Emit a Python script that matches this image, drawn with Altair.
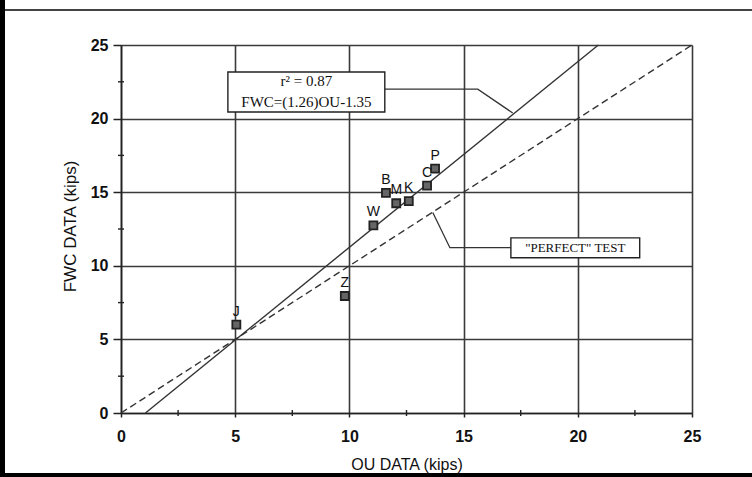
import altair as alt
import pandas as pd

# ---- data ----
pt_labels = ["J", "Z", "W", "B", "M", "K", "C", "P"]
ou_vals = [5.05, 9.8, 11.05, 11.6, 12.05, 12.6, 13.4, 13.75]
fwc_vals = [6.0, 7.95, 12.75, 14.95, 14.25, 14.4, 15.45, 16.6]

fit_x = [1.07, 20.9]      # FWC = (1.26)OU - 1.35
fit_y = [0.0, 25.0]
perfect_x = [0.0, 25.0]
perfect_y = [0.0, 25.0]

ticks = [0, 5, 10, 15, 20, 25]
minor_ticks = [2.5, 7.5, 12.5, 17.5, 22.5]

box1_x = [4.68, 11.55]
box1_y = [20.45, 23.17]
box1_text = ["r² = 0.87", "FWC=(1.26)OU-1.35"]
box1_text_y = [22.55, 21.15]
lead1_x = [11.55, 15.62, 17.15]
lead1_y = [22.0, 22.0, 20.38]

box2_x = [17.07, 22.71]
box2_y = [10.55, 11.9]
box2_text = ['"PERFECT" TEST']
box2_text_y = [11.22]
lead2_x = [17.07, 14.4, 13.65]
lead2_y = [11.23, 11.23, 13.62]

W, H = 571, 368

xs = alt.Scale(domain=[0, 25], nice=False, zero=False)
ys = alt.Scale(domain=[0, 25], nice=False, zero=False)

pts = pd.DataFrame({"ou": ou_vals, "fwc": fwc_vals, "lab": pt_labels})

x_axis = alt.Axis(values=ticks, grid=True, gridColor="#3a3a3a", gridWidth=1.6,
                  domainColor="#222", domainWidth=1.6, tickColor="#222", tickWidth=1.5,
                  tickSize=4, labelFont="Liberation Sans", labelFontSize=16,
                  labelFontWeight="bold", labelColor="#111", labelPadding=11,
                  labelFlush=False,
                  title="OU DATA (kips)", titleFont="Liberation Sans", titleFontSize=16,
                  titleFontWeight="normal", titleColor="#111", titleX=W / 2, titleY=51,
                  titleBaseline="middle", titleAnchor="middle")
y_axis = alt.Axis(values=ticks, grid=True, gridColor="#3a3a3a", gridWidth=1.6,
                  domainColor="#222", domainWidth=1.6, tickColor="#222", tickWidth=1.5,
                  tickSize=8, labelFont="Liberation Sans", labelFontSize=16,
                  labelFontWeight="bold", labelColor="#111", labelPadding=5,
                  labelFlush=False,
                  title="FWC DATA (kips)", titleFont="Liberation Sans", titleFontSize=17,
                  titleFontWeight="normal", titleColor="#111", titleX=-51, titleY=181,
                  titleAngle=-90, titleBaseline="middle", titleAlign="center")

base_axes = alt.Chart(pd.DataFrame({"ou": [0], "fwc": [0]})).mark_point(opacity=0).encode(
    x=alt.X("ou:Q", scale=xs, axis=x_axis),
    y=alt.Y("fwc:Q", scale=ys, axis=y_axis),
)

minor_x = alt.Chart(pd.DataFrame({"v": minor_ticks})).mark_rule(color="#222", strokeWidth=1.4).encode(
    x=alt.X("v:Q", scale=xs), y=alt.value(H - 3), y2=alt.value(H + 3))
minor_y = alt.Chart(pd.DataFrame({"v": minor_ticks})).mark_rule(color="#222", strokeWidth=1.4).encode(
    y=alt.Y("v:Q", scale=ys), x=alt.value(-3), x2=alt.value(3))

perfect = alt.Chart(pd.DataFrame({"x": perfect_x, "y": perfect_y})).mark_line(
    color="#333", strokeWidth=1.4, strokeDash=[7, 4]).encode(
    x=alt.X("x:Q", scale=xs), y=alt.Y("y:Q", scale=ys))
fit = alt.Chart(pd.DataFrame({"x": fit_x, "y": fit_y})).mark_line(
    color="#333", strokeWidth=1.4).encode(
    x=alt.X("x:Q", scale=xs), y=alt.Y("y:Q", scale=ys))

lead1 = alt.Chart(pd.DataFrame({"x": lead1_x, "y": lead1_y, "o": [0, 1, 2]})).mark_line(
    color="#333", strokeWidth=1.3).encode(
    x=alt.X("x:Q", scale=xs), y=alt.Y("y:Q", scale=ys), order="o:Q")
lead2 = alt.Chart(pd.DataFrame({"x": lead2_x, "y": lead2_y, "o": [0, 1, 2]})).mark_line(
    color="#333", strokeWidth=1.3).encode(
    x=alt.X("x:Q", scale=xs), y=alt.Y("y:Q", scale=ys), order="o:Q")

box1 = alt.Chart(pd.DataFrame({"x": [box1_x[0]], "x2": [box1_x[1]], "y": [box1_y[0]], "y2": [box1_y[1]]})).mark_rect(
    fill="white", stroke="#222", strokeWidth=1.4).encode(
    x=alt.X("x:Q", scale=xs), x2="x2:Q", y=alt.Y("y:Q", scale=ys), y2="y2:Q")
box2 = alt.Chart(pd.DataFrame({"x": [box2_x[0]], "x2": [box2_x[1]], "y": [box2_y[0]], "y2": [box2_y[1]]})).mark_rect(
    fill="white", stroke="#222", strokeWidth=1.4).encode(
    x=alt.X("x:Q", scale=xs), x2="x2:Q", y=alt.Y("y:Q", scale=ys), y2="y2:Q")

t1 = alt.Chart(pd.DataFrame({"x": [(box1_x[0] + box1_x[1]) / 2] * 2, "y": box1_text_y, "t": box1_text})).mark_text(
    font="Liberation Serif", fontSize=15, color="#111", baseline="middle", align="center").encode(
    x=alt.X("x:Q", scale=xs), y=alt.Y("y:Q", scale=ys), text="t:N")
t2 = alt.Chart(pd.DataFrame({"x": [(box2_x[0] + box2_x[1]) / 2], "y": box2_text_y, "t": box2_text})).mark_text(
    font="Liberation Serif", fontSize=13, color="#111", baseline="middle", align="center").encode(
    x=alt.X("x:Q", scale=xs), y=alt.Y("y:Q", scale=ys), text="t:N")

markers = alt.Chart(pts).mark_square(size=64, fill="#666", stroke="#222", strokeWidth=1.8, opacity=1).encode(
    x=alt.X("ou:Q", scale=xs), y=alt.Y("fwc:Q", scale=ys))
labels = alt.Chart(pts).mark_text(font="Liberation Sans", fontSize=14, color="#111", dy=-13).encode(
    x=alt.X("ou:Q", scale=xs), y=alt.Y("fwc:Q", scale=ys), text="lab:N")

one = pd.DataFrame({"a": [0]})
frame_top = alt.Chart(one).mark_rule(color="#444", strokeWidth=2).encode(
    x=alt.value(-121), x2=alt.value(631), y=alt.value(-35))
frame_left = alt.Chart(one).mark_rule(color="#000", strokeWidth=5).encode(
    x=alt.value(-118.5), y=alt.value(-45), y2=alt.value(432))
frame_bottom = alt.Chart(one).mark_rule(color="#000", strokeWidth=4).encode(
    x=alt.value(-121), x2=alt.value(631), y=alt.value(430))

chart = alt.layer(
    base_axes, minor_x, minor_y, perfect, fit, lead1, lead2, box1, box2, t1, t2,
    markers, labels, frame_top, frame_left, frame_bottom
).properties(
    width=W, height=H,
    autosize=alt.AutoSizeParams(type="none"),
    padding={"left": 121, "top": 45, "right": 60, "bottom": 64},
    background="white",
).configure_view(stroke=None)

chart.save("out.html", embed_options={"renderer": "svg", "actions": False})
